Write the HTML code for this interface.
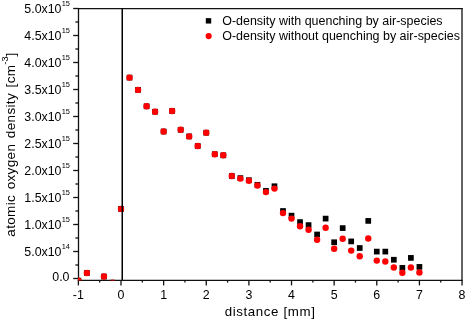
<!DOCTYPE html>
<html><head><meta charset="utf-8"><style>
html,body{margin:0;padding:0;background:#fff;width:466px;height:320px;overflow:hidden}
svg{display:block;will-change:transform}
text{font-family:"Liberation Sans",sans-serif}
</style></head><body>
<svg width="466" height="320" viewBox="0 0 466 320">
<defs><clipPath id="c"><rect x="78.0" y="8.65" width="384.0" height="271.95"/></clipPath></defs>
<g stroke="#111" stroke-width="1.3" fill="none">
<line x1="78.5" y1="8.05" x2="78.5" y2="280.90"/>
<line x1="77.9" y1="8.65" x2="462.6" y2="8.65"/>
<line x1="77.9" y1="280.3" x2="462.6" y2="280.3"/>
<line x1="462.0" y1="8.05" x2="462.0" y2="280.90"/>
<line x1="73.2" y1="278.50" x2="78.5" y2="278.50"/>
<line x1="73.2" y1="251.50" x2="78.5" y2="251.50"/>
<line x1="73.2" y1="224.50" x2="78.5" y2="224.50"/>
<line x1="73.2" y1="197.50" x2="78.5" y2="197.50"/>
<line x1="73.2" y1="170.50" x2="78.5" y2="170.50"/>
<line x1="73.2" y1="143.50" x2="78.5" y2="143.50"/>
<line x1="73.2" y1="116.50" x2="78.5" y2="116.50"/>
<line x1="73.2" y1="89.50" x2="78.5" y2="89.50"/>
<line x1="73.2" y1="62.50" x2="78.5" y2="62.50"/>
<line x1="73.2" y1="35.50" x2="78.5" y2="35.50"/>
<line x1="73.2" y1="8.50" x2="78.5" y2="8.50"/>
<line x1="75.4" y1="265.00" x2="78.5" y2="265.00"/>
<line x1="75.4" y1="238.00" x2="78.5" y2="238.00"/>
<line x1="75.4" y1="211.00" x2="78.5" y2="211.00"/>
<line x1="75.4" y1="184.00" x2="78.5" y2="184.00"/>
<line x1="75.4" y1="157.00" x2="78.5" y2="157.00"/>
<line x1="75.4" y1="130.00" x2="78.5" y2="130.00"/>
<line x1="75.4" y1="103.00" x2="78.5" y2="103.00"/>
<line x1="75.4" y1="76.00" x2="78.5" y2="76.00"/>
<line x1="75.4" y1="49.00" x2="78.5" y2="49.00"/>
<line x1="75.4" y1="22.00" x2="78.5" y2="22.00"/>
<line x1="78.37" y1="280.3" x2="78.37" y2="285.4"/>
<line x1="121.00" y1="280.3" x2="121.00" y2="285.4"/>
<line x1="163.63" y1="280.3" x2="163.63" y2="285.4"/>
<line x1="206.26" y1="280.3" x2="206.26" y2="285.4"/>
<line x1="248.89" y1="280.3" x2="248.89" y2="285.4"/>
<line x1="291.52" y1="280.3" x2="291.52" y2="285.4"/>
<line x1="334.15" y1="280.3" x2="334.15" y2="285.4"/>
<line x1="376.78" y1="280.3" x2="376.78" y2="285.4"/>
<line x1="419.41" y1="280.3" x2="419.41" y2="285.4"/>
<line x1="462.04" y1="280.3" x2="462.04" y2="285.4"/>
<line x1="99.69" y1="280.3" x2="99.69" y2="282.6"/>
<line x1="142.31" y1="280.3" x2="142.31" y2="282.6"/>
<line x1="184.94" y1="280.3" x2="184.94" y2="282.6"/>
<line x1="227.57" y1="280.3" x2="227.57" y2="282.6"/>
<line x1="270.21" y1="280.3" x2="270.21" y2="282.6"/>
<line x1="312.84" y1="280.3" x2="312.84" y2="282.6"/>
<line x1="355.47" y1="280.3" x2="355.47" y2="282.6"/>
<line x1="398.10" y1="280.3" x2="398.10" y2="282.6"/>
<line x1="440.73" y1="280.3" x2="440.73" y2="282.6"/>
</g>
<g clip-path="url(#c)">
<rect x="75.52" y="277.75" width="5.7" height="5.7" fill="#000"/>
<rect x="84.05" y="270.15" width="5.7" height="5.7" fill="#000"/>
<rect x="101.10" y="273.65" width="5.7" height="5.7" fill="#000"/>
<rect x="109.62" y="279.85" width="5.7" height="5.7" fill="#000"/>
<rect x="118.15" y="206.05" width="5.7" height="5.7" fill="#000"/>
<rect x="126.68" y="74.75" width="5.7" height="5.7" fill="#000"/>
<rect x="135.20" y="87.05" width="5.7" height="5.7" fill="#000"/>
<rect x="143.73" y="103.45" width="5.7" height="5.7" fill="#000"/>
<rect x="152.25" y="108.85" width="5.7" height="5.7" fill="#000"/>
<rect x="160.78" y="128.65" width="5.7" height="5.7" fill="#000"/>
<rect x="169.31" y="108.15" width="5.7" height="5.7" fill="#000"/>
<rect x="177.83" y="126.95" width="5.7" height="5.7" fill="#000"/>
<rect x="186.36" y="133.55" width="5.7" height="5.7" fill="#000"/>
<rect x="194.88" y="143.15" width="5.7" height="5.7" fill="#000"/>
<rect x="203.41" y="129.85" width="5.7" height="5.7" fill="#000"/>
<rect x="211.94" y="151.35" width="5.7" height="5.7" fill="#000"/>
<rect x="220.46" y="152.45" width="5.7" height="5.7" fill="#000"/>
<rect x="228.99" y="173.15" width="5.7" height="5.7" fill="#000"/>
<rect x="237.51" y="175.25" width="5.7" height="5.7" fill="#000"/>
<rect x="246.04" y="177.35" width="5.7" height="5.7" fill="#000"/>
<rect x="254.57" y="181.95" width="5.7" height="5.7" fill="#000"/>
<rect x="263.09" y="188.05" width="5.7" height="5.7" fill="#000"/>
<rect x="271.62" y="183.40" width="5.7" height="5.7" fill="#000"/>
<rect x="280.14" y="208.15" width="5.7" height="5.7" fill="#000"/>
<rect x="288.67" y="212.80" width="5.7" height="5.7" fill="#000"/>
<rect x="297.20" y="219.25" width="5.7" height="5.7" fill="#000"/>
<rect x="305.72" y="222.25" width="5.7" height="5.7" fill="#000"/>
<rect x="314.25" y="231.65" width="5.7" height="5.7" fill="#000"/>
<rect x="322.77" y="215.75" width="5.7" height="5.7" fill="#000"/>
<rect x="331.30" y="239.40" width="5.7" height="5.7" fill="#000"/>
<rect x="339.83" y="225.25" width="5.7" height="5.7" fill="#000"/>
<rect x="348.35" y="238.55" width="5.7" height="5.7" fill="#000"/>
<rect x="356.88" y="245.15" width="5.7" height="5.7" fill="#000"/>
<rect x="365.40" y="218.05" width="5.7" height="5.7" fill="#000"/>
<rect x="373.93" y="248.75" width="5.7" height="5.7" fill="#000"/>
<rect x="382.46" y="248.75" width="5.7" height="5.7" fill="#000"/>
<rect x="390.98" y="256.90" width="5.7" height="5.7" fill="#000"/>
<rect x="399.51" y="265.05" width="5.7" height="5.7" fill="#000"/>
<rect x="408.03" y="255.05" width="5.7" height="5.7" fill="#000"/>
<rect x="416.56" y="264.05" width="5.7" height="5.7" fill="#000"/>
<circle cx="78.37" cy="280.60" r="3.2" fill="#f00"/>
<circle cx="86.90" cy="273.00" r="3.2" fill="#f00"/>
<circle cx="103.95" cy="276.50" r="3.2" fill="#f00"/>
<circle cx="112.47" cy="282.70" r="3.2" fill="#f00"/>
<circle cx="121.00" cy="208.90" r="3.2" fill="#f00"/>
<circle cx="129.53" cy="77.60" r="3.2" fill="#f00"/>
<circle cx="138.05" cy="89.90" r="3.2" fill="#f00"/>
<circle cx="146.58" cy="106.30" r="3.2" fill="#f00"/>
<circle cx="155.10" cy="111.70" r="3.2" fill="#f00"/>
<circle cx="163.63" cy="131.50" r="3.2" fill="#f00"/>
<circle cx="172.16" cy="111.00" r="3.2" fill="#f00"/>
<circle cx="180.68" cy="129.80" r="3.2" fill="#f00"/>
<circle cx="189.21" cy="136.40" r="3.2" fill="#f00"/>
<circle cx="197.73" cy="146.00" r="3.2" fill="#f00"/>
<circle cx="206.26" cy="132.70" r="3.2" fill="#f00"/>
<circle cx="214.79" cy="154.20" r="3.2" fill="#f00"/>
<circle cx="223.31" cy="155.30" r="3.2" fill="#f00"/>
<circle cx="231.84" cy="176.00" r="3.2" fill="#f00"/>
<circle cx="240.36" cy="178.60" r="3.2" fill="#f00"/>
<circle cx="248.89" cy="180.75" r="3.2" fill="#f00"/>
<circle cx="257.42" cy="185.50" r="3.2" fill="#f00"/>
<circle cx="265.94" cy="192.10" r="3.2" fill="#f00"/>
<circle cx="274.47" cy="188.60" r="3.2" fill="#f00"/>
<circle cx="282.99" cy="213.10" r="3.2" fill="#f00"/>
<circle cx="291.52" cy="218.60" r="3.2" fill="#f00"/>
<circle cx="300.05" cy="226.20" r="3.2" fill="#f00"/>
<circle cx="308.57" cy="229.75" r="3.2" fill="#f00"/>
<circle cx="317.10" cy="239.75" r="3.2" fill="#f00"/>
<circle cx="325.62" cy="227.75" r="3.2" fill="#f00"/>
<circle cx="334.15" cy="248.75" r="3.2" fill="#f00"/>
<circle cx="342.68" cy="238.75" r="3.2" fill="#f00"/>
<circle cx="351.20" cy="250.60" r="3.2" fill="#f00"/>
<circle cx="359.73" cy="256.25" r="3.2" fill="#f00"/>
<circle cx="368.25" cy="238.50" r="3.2" fill="#f00"/>
<circle cx="376.78" cy="260.60" r="3.2" fill="#f00"/>
<circle cx="385.31" cy="261.50" r="3.2" fill="#f00"/>
<circle cx="393.83" cy="267.50" r="3.2" fill="#f00"/>
<circle cx="402.36" cy="272.75" r="3.2" fill="#f00"/>
<circle cx="410.88" cy="267.50" r="3.2" fill="#f00"/>
<circle cx="419.41" cy="272.50" r="3.2" fill="#f00"/>
</g>
<line x1="122.25" y1="8.65" x2="122.25" y2="280.3" stroke="#000" stroke-width="1.5"/>
<g font-family="Liberation Sans, sans-serif" fill="#000">
<text x="69.5" y="280.60" font-size="12.4" text-anchor="end">0.0</text>
<text x="61.5" y="255.60" font-size="12.4" text-anchor="end">5.0x10</text>
<text x="61.65" y="249.05" font-size="7.4">14</text>
<text x="61.5" y="228.60" font-size="12.4" text-anchor="end">1.0x10</text>
<text x="61.65" y="222.05" font-size="7.4">15</text>
<text x="61.5" y="201.60" font-size="12.4" text-anchor="end">1.5x10</text>
<text x="61.65" y="195.05" font-size="7.4">15</text>
<text x="61.5" y="174.60" font-size="12.4" text-anchor="end">2.0x10</text>
<text x="61.65" y="168.05" font-size="7.4">15</text>
<text x="61.5" y="147.60" font-size="12.4" text-anchor="end">2.5x10</text>
<text x="61.65" y="141.05" font-size="7.4">15</text>
<text x="61.5" y="120.60" font-size="12.4" text-anchor="end">3.0x10</text>
<text x="61.65" y="114.05" font-size="7.4">15</text>
<text x="61.5" y="93.60" font-size="12.4" text-anchor="end">3.5x10</text>
<text x="61.65" y="87.05" font-size="7.4">15</text>
<text x="61.5" y="66.60" font-size="12.4" text-anchor="end">4.0x10</text>
<text x="61.65" y="60.05" font-size="7.4">15</text>
<text x="61.5" y="39.60" font-size="12.4" text-anchor="end">4.5x10</text>
<text x="61.65" y="33.05" font-size="7.4">15</text>
<text x="61.5" y="12.60" font-size="12.4" text-anchor="end">5.0x10</text>
<text x="61.65" y="6.05" font-size="7.4">15</text>
<text x="78.37" y="299.0" font-size="12.4" text-anchor="middle">-1</text>
<text x="121.00" y="299.0" font-size="12.4" text-anchor="middle">0</text>
<text x="163.63" y="299.0" font-size="12.4" text-anchor="middle">1</text>
<text x="206.26" y="299.0" font-size="12.4" text-anchor="middle">2</text>
<text x="248.89" y="299.0" font-size="12.4" text-anchor="middle">3</text>
<text x="291.52" y="299.0" font-size="12.4" text-anchor="middle">4</text>
<text x="334.15" y="299.0" font-size="12.4" text-anchor="middle">5</text>
<text x="376.78" y="299.0" font-size="12.4" text-anchor="middle">6</text>
<text x="419.41" y="299.0" font-size="12.4" text-anchor="middle">7</text>
<text x="462.04" y="299.0" font-size="12.4" text-anchor="middle">8</text>
<text x="270.05" y="315.8" font-size="13.3" letter-spacing="0.62" text-anchor="middle">distance [mm]</text>
<text transform="translate(15,144.55) rotate(-90)" font-size="13.5" letter-spacing="0.34" word-spacing="1.5" text-anchor="middle">atomic oxygen density [cm<tspan font-size="9.2" letter-spacing="0" dy="-7.2">-3</tspan><tspan dy="7.2">]</tspan></text>
<rect x="205.8" y="18.15" width="5.4" height="5.4" fill="#000"/>
<circle cx="208.65" cy="36.1" r="3.1" fill="#f00"/>
<text x="222.2" y="24.8" font-size="12.47">O-density with quenching by air-species</text>
<text x="222.2" y="39.8" font-size="12.47">O-density without quenching by air-species</text>
</g>
</svg>
</body></html>
